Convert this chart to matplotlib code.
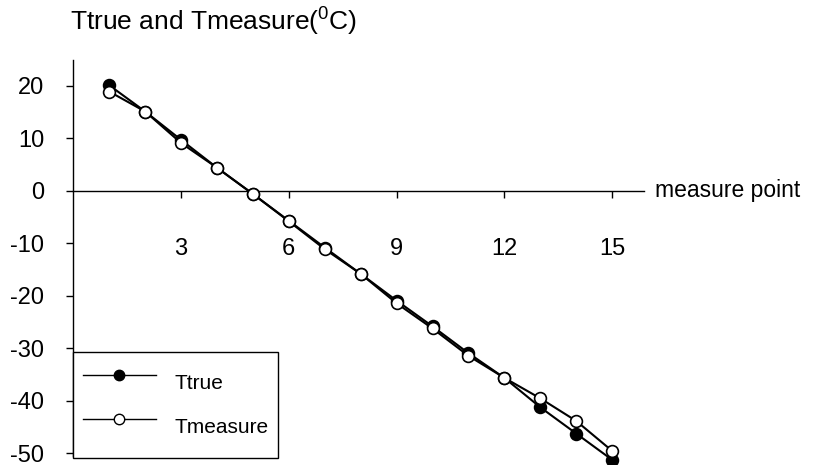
import matplotlib
matplotlib.use("Agg")
import matplotlib.pyplot as plt
from matplotlib.lines import Line2D

plt.rcParams['font.family'] = ['Liberation Sans', 'DejaVu Sans']
plt.rcParams['mathtext.fontset'] = 'custom'
plt.rcParams['mathtext.rm'] = 'Liberation Sans'
plt.rcParams['mathtext.it'] = 'Liberation Sans'
plt.rcParams['axes.unicode_minus'] = False

# measurement data
points = list(range(1, 16))
t_true = [20.1, 15.1, 9.7, 4.4, -0.6, -5.7, -10.8, -15.8, -20.9, -25.8,
          -30.9, -35.6, -41.2, -46.2, -51.2]
t_measure = [18.9, 15.1, 9.1, 4.4, -0.6, -5.8, -11.1, -15.8, -21.4, -26.2,
             -31.4, -35.6, -39.5, -43.8, -49.5]
x_ticks = [3, 6, 9, 12, 15]
y_ticks = [20, 10, 0, -10, -20, -30, -40, -50]

FS = 17

fig = plt.figure(figsize=(8.21, 4.66), dpi=100)
ax = fig.add_axes([0.0893, 0.0043, 0.7, 0.868])

ax.plot(points, t_true, color='black', lw=1.5, marker='o', ms=8.5,
        mfc='black', mec='black', mew=1.2, label='Ttrue', zorder=3)
ax.plot(points, t_measure, color='black', lw=1.5, marker='o', ms=8.5,
        mfc='white', mec='black', mew=1.2, label='Tmeasure', zorder=4)

ax.set_xlim(0, 16)
ax.set_ylim(-52, 25)

for s in ('top', 'right'):
    ax.spines[s].set_visible(False)
ax.spines['bottom'].set_position(('data', 0))
ax.spines['bottom'].set_bounds(0, 15.9)
ax.spines['left'].set_bounds(-50.4, 25)
ax.spines['left'].set_linewidth(1.0)
ax.spines['bottom'].set_linewidth(1.0)

ax.set_xticks(x_ticks)
ax.set_xticklabels([str(v) for v in x_ticks])
ax.set_yticks(y_ticks)
ax.set_yticklabels([str(v) for v in y_ticks])
ax.tick_params(axis='x', direction='out', length=5, width=1, pad=29, labelsize=FS)
ax.tick_params(axis='y', direction='out', length=5, width=1, pad=16, labelsize=FS)

ax.text(16.2, 0, 'measure point', fontsize=16.5, va='center', ha='left')
fig.text(0.085, 0.953, r'Ttrue and Tmeasure($^0$C)', fontsize=19, ha='left', va='center')

handles = [
    Line2D([], [], color='black', lw=1.0, marker='o', ms=7.5, mfc='black', mec='black'),
    Line2D([], [], color='black', lw=1.0, marker='o', ms=7.5, mfc='white', mec='black'),
]
leg = ax.legend(handles, ['Ttrue', 'Tmeasure'], loc='lower left',
                bbox_to_anchor=(0.0, 0.016), borderaxespad=0, fancybox=False,
                edgecolor='black', framealpha=1, fontsize=15,
                handlelength=3.5, handleheight=2.8, handletextpad=0.9,
                labelspacing=0.05, borderpad=0.45)
leg.get_frame().set_linewidth(1.0)

fig.savefig('out.png', dpi=100)
